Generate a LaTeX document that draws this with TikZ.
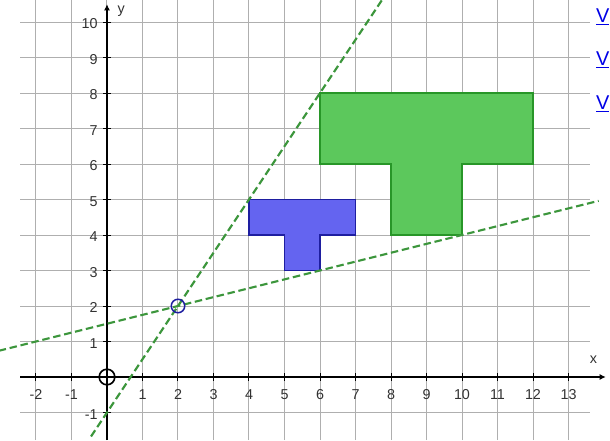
\documentclass[tikz,border=0pt]{standalone}
\usepackage{fontspec}
\setmainfont{Liberation Sans}
\usetikzlibrary{arrows.meta}
\definecolor{gridgray}{RGB}{175,175,175}
\definecolor{gfill}{RGB}{92,200,92}
\definecolor{gdraw}{RGB}{40,150,40}
\definecolor{bfill}{RGB}{100,100,240}
\definecolor{bdraw}{RGB}{30,30,160}
\definecolor{dline}{RGB}{60,150,60}
\definecolor{linkblue}{RGB}{0,0,230}
\definecolor{labgray}{RGB}{50,50,50}
\tikzset{
  gridline/.style={gridgray, line width=0.8pt},
  axisline/.style={black, line width=1.4pt, -{Latex[length=5pt,width=5pt]}},
  dashline/.style={dline, line width=1.7pt, dash pattern=on 6pt off 3pt},
  gshape/.style={fill=gfill, draw=gdraw, line width=1pt},
  bshape/.style={fill=bfill, draw=bdraw, line width=1pt},
  ticklab/.style={text=labgray, font=\fontsize{11.5}{13}\selectfont, inner sep=1pt},
  linklab/.style={text=linkblue, font=\fontsize{16}{18}\selectfont, anchor=west, inner sep=0pt},
}
\begin{document}
\begin{tikzpicture}[x=1cm,y=1cm]
\useasboundingbox (-3.014,-1.775) rectangle (14.169,10.620);
% grid
\foreach \i in {-2,...,13} \draw[gridline] (\i,-1.775) -- (\i,10.62);
\foreach \j in {-1,...,10} \draw[gridline] (-2.45,\j) -- (13.6,\j);
% shapes
\draw[gshape] (6,8) -- (12,8) -- (12,6) -- (10,6) -- (10,4) -- (8,4) -- (8,6) -- (6,6) -- cycle;
\draw[bshape] (4,5) -- (7,5) -- (7,4) -- (6,4) -- (6,3) -- (5,3) -- (5,4) -- (4,4) -- cycle;
% axes
\coordinate (xl) at (-2.45,0);
\coordinate (xr) at (14.05,0);
\coordinate (yb) at (0,-1.775);
\coordinate (yt) at (0,10.5);
\draw[axisline] (xl) -- (xr);
\draw[axisline] (yb) -- (yt);
\foreach \i in {-2,-1,1,2,...,13} {
  \draw[black, line width=0.8pt] (\i,-0.1) -- (\i,0.1);
  \node[ticklab] (xt\i) at (\i,-0.5) {\i};
}
\foreach \j in {-1,1,2,...,10} {
  \draw[black, line width=0.8pt] (-0.1,\j) -- (0.1,\j);
  \node[ticklab, anchor=east] (yt\j) at (-0.22,\j-0.05) {\j};
}
\node[ticklab] (xlab) at (13.7,0.5) {x};
\node[ticklab] (ylab) at (0.4,10.3) {y};
% dashed lines
\coordinate (a1) at (-0.45,-1.675);
\coordinate (a2) at (7.9,10.85);
\coordinate (b1) at (-3.05,0.7375);
\coordinate (b2) at (13.85,4.9625);
\draw[dashline] (a1) -- (a2);
\draw[dashline] (b1) -- (b2);
% circles
\node[draw=black, line width=1.3pt, circle, minimum size=0.44cm, inner sep=0pt] (o) at (0,0) {};
\node[draw=bdraw, line width=1.2pt, circle, minimum size=0.38cm, inner sep=0pt] (c) at (2,2) {};
% links
\node[linklab] (l1) at (13.77,10.15) {\underline{V}};
\node[linklab] (l2) at (13.77,8.93) {\underline{V}};
\node[linklab] (l3) at (13.77,7.7) {\underline{V}};
\end{tikzpicture}
\end{document}
